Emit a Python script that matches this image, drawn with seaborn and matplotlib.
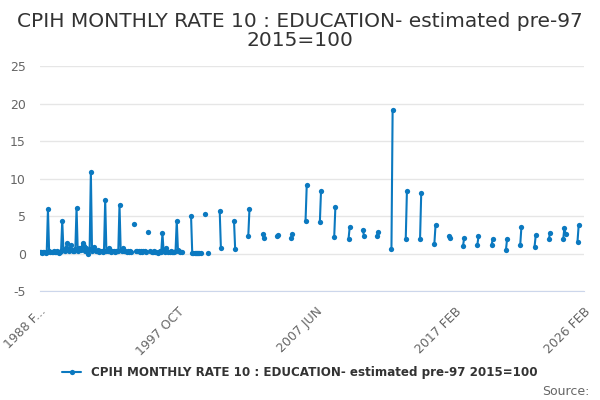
import pandas as pd
import matplotlib
matplotlib.use("Agg")
import matplotlib.pyplot as plt
from matplotlib.lines import Line2D
import seaborn as sns

# monthly rates Jan..Dec for the early (estimated) years, None = no value
rates_1988 = [None, 0.2, 0.2, 0.1, 0.2, 0.2, 0.1, 0.2, 5.9, 0.3, 0.2, 0.2]
rates_1989 = [0.2, 0.3, 0.2, 0.2, 0.3, 0.1, 0.2, 0.3, 4.4, 0.5, 0.3, 0.8]
rates_1990 = [1.4, 0.6, 0.3, 1.1, 0.5, 0.4, 0.3, 0.6, 6.1, 0.4, 0.7, 0.8]
rates_1991 = [0.5, 1.4, 1.0, 0.4, 0.8, 0.3, -0.1, 0.6, 10.9, 0.3, 0.5, 0.9]
rates_1992 = [0.4, 0.3, 0.5, 0.2, 0.3, 0.4, 0.2, 0.3, 7.2, 0.4, 0.3, 0.8]
rates_1993 = [0.3, 0.2, 0.4, 0.3, 0.2, 0.3, 0.4, 0.3, 6.5, 0.5, 0.3, 0.7]
rates_1994 = [0.4, 0.3, 0.2, 0.3, 0.2, 0.3, 0.2, None, 3.9, None, 0.3, 0.3]
rates_1995 = [0.3, 0.2, 0.3, 0.2, 0.3, 0.3, 0.2, None, 2.9, None, 0.3, 0.2]
rates_1996 = [0.2, 0.3, 0.2, 0.2, 0.1, 0.2, 0.3, 0.2, 2.7, 0.3, 0.2, 0.8]
rates_1997 = [None, 0.2, 0.2, 0.3, 0.2, 0.2, 0.2, 0.3, 4.4, 0.5, 0.3, 0.2]
rates_1998 = [0.2, None, None, None, None, None, None, None, 5.0, 0.1, 0.1, 0.1]
rates_1999 = [0.1, 0.1, 0.1, 0.1, 0.1, None, None, None, 5.3, None, 0.1, None]
early_rates = [rates_1988, rates_1989, rates_1990, rates_1991, rates_1992, rates_1993,
               rates_1994, rates_1995, rates_1996, rates_1997, rates_1998, rates_1999]
early_years = list(range(1988, 2000))

# from 2000 only September and October values are shown
pair_years = list(range(2000, 2026))
sep_rates = [5.7, 4.4, 2.4, 2.6, 2.4, 2.1, 4.4, 4.2, 2.2, 1.9, 3.2, 2.4, 0.6,
             2.0, 2.0, 1.3, 2.4, 1.0, 1.1, 1.2, 0.5, 1.2, 0.9, 1.9, 1.9, 1.6]
oct_rates = [0.8, 0.55, 6.0, 2.1, 2.5, 2.6, 9.1, 8.4, 6.2, 3.5, 2.4, 2.9, 19.2,
             8.4, 8.1, 3.8, 2.1, 2.1, 2.3, 1.9, 2.0, 3.6, 2.45, 2.8, 3.4, 3.8]
extra_months = ["2024-11-01"]
extra_rates = [2.6]

series_name = "CPIH MONTHLY RATE 10 : EDUCATION- estimated pre-97 2015=100"
title = "CPIH MONTHLY RATE 10 : EDUCATION- estimated pre-97\n2015=100"
y_ticks = [-5, 0, 5, 10, 15, 20, 25]
x_label_text = ["1988 F...", "1997 OCT", "2007 JUN", "2017 FEB", "2026 FEB"]

blue = "#0b79c0"


def build_frame():
    parts = []
    for year, vals in zip(early_years, early_rates):
        dates = pd.date_range(f"{year}-01-01", periods=12, freq="MS")
        parts.append(pd.Series(vals, index=dates, dtype=float))
    parts.append(pd.Series(sep_rates, index=pd.to_datetime([f"{y}-09-01" for y in pair_years])))
    parts.append(pd.Series(oct_rates, index=pd.to_datetime([f"{y}-10-01" for y in pair_years])))
    parts.append(pd.Series(extra_rates, index=pd.to_datetime(extra_months)))
    s = pd.concat(parts).sort_index()
    s = s[~s.index.duplicated()]
    full = pd.date_range("1988-02-01", "2026-02-01", freq="MS")
    s = s.reindex(full)
    df = pd.DataFrame({"date": s.index, "rate": s.values})
    df["seg"] = df["rate"].isna().cumsum()
    return df.dropna()


df = build_frame()

sns.set_style("white")
plt.rcParams["font.family"] = ["DejaVu Sans"]

fig, ax = plt.subplots(figsize=(6, 4), dpi=100)
fig.subplots_adjust(left=0.066, right=0.9725, top=0.834, bottom=0.2725)

sns.lineplot(data=df, x="date", y="rate", units="seg", estimator=None, color=blue,
             marker="o", markersize=3.8, markeredgewidth=0, linewidth=1.5,
             legend=False, ax=ax)

ax.set_ylim(-5, 25)
ax.set_yticks(y_ticks)
ax.set_yticklabels([str(v) for v in y_ticks], color="#666666", fontsize=9)
ax.yaxis.grid(True, color="#e6e6e6", linewidth=1)
ax.xaxis.grid(False)
ax.tick_params(axis="y", length=0, pad=10)

start, end = pd.Timestamp("1988-02-01"), pd.Timestamp("2026-02-01")
ax.set_xlim(start, end)
tick_dates = list(pd.date_range(start, end, freq="29MS")) + [end]
labels = []
for i, d in enumerate(tick_dates):
    if i == len(tick_dates) - 1:
        labels.append(x_label_text[-1])
    elif i % 4 == 0:
        labels.append(x_label_text[i // 4])
    else:
        labels.append("")
ax.set_xticks(tick_dates)
ax.set_xticklabels(labels, rotation=45, ha="right", rotation_mode="anchor",
                   color="#666666", fontsize=9)
ax.tick_params(axis="x", direction="out", length=7, width=1, color="#ccd6eb", pad=3)
ax.set_xlabel("")
ax.set_ylabel("")

for side in ["top", "right", "left"]:
    ax.spines[side].set_visible(False)
ax.spines["bottom"].set_color("#ccd6eb")

fig.text(0.5, 0.971, title, ha="center", va="top", fontsize=14.5, color="#333333",
         linespacing=1.05)

handle = Line2D([], [], color=blue, marker="o", markersize=3.8, markeredgewidth=0,
                linewidth=1.5)
fig.legend([handle], [series_name], loc="center", bbox_to_anchor=(0.5, 0.068),
           frameon=False, handlelength=1.6,
           prop={"size": 8.6, "weight": "bold"}, labelcolor="#333333")

fig.text(0.982, 0.022, "Source:", ha="right", va="center", fontsize=9, color="#666666")

fig.savefig("out.png", dpi=100)
